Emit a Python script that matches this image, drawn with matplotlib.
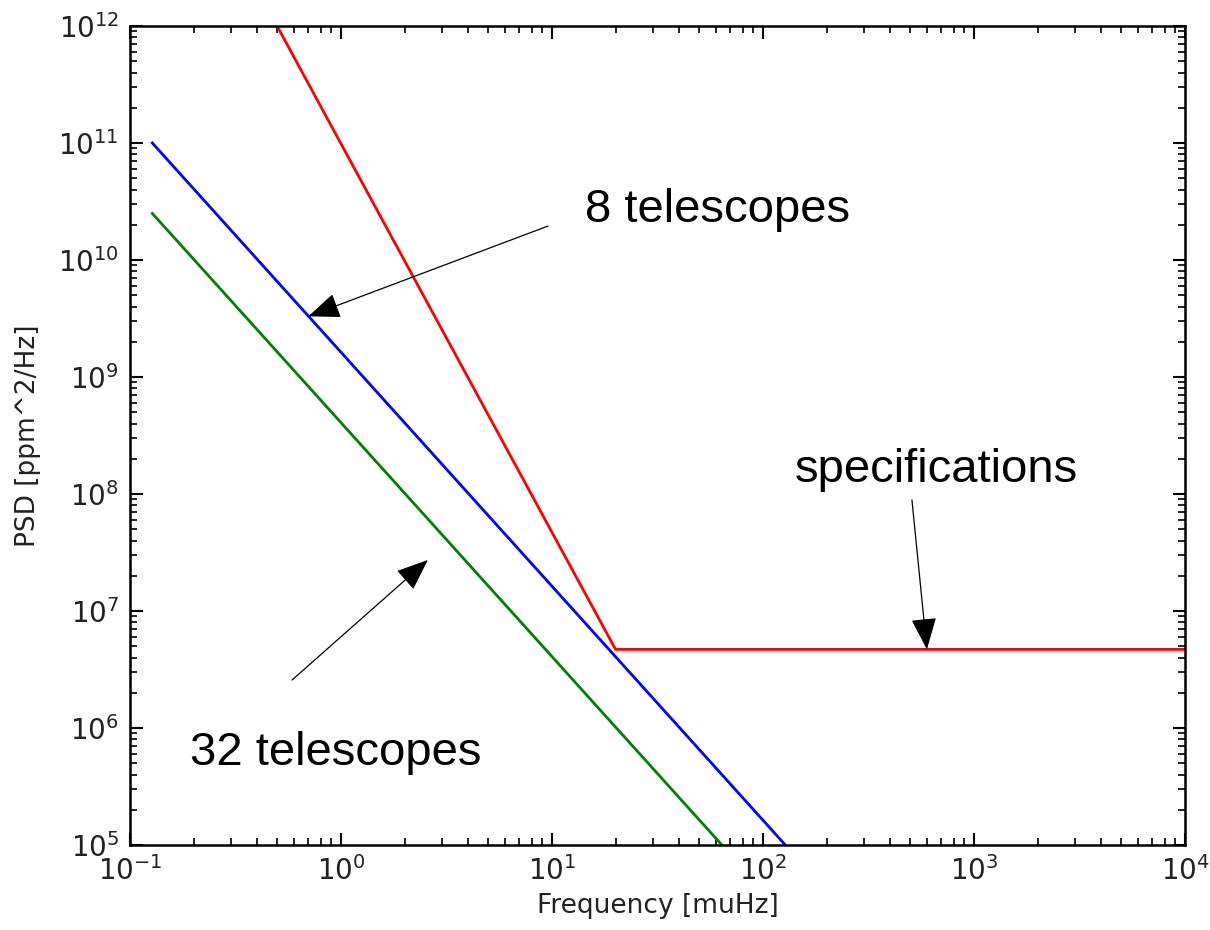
import matplotlib
matplotlib.use("Agg")
import matplotlib.pyplot as plt

# Noise power spectral density versus frequency
freq_tel = [0.1276, 200.0]           # muHz
psd_8_tel = [1.0e11, 4.07e4]         # ppm^2/Hz, 8 telescopes
psd_32_tel = [2.5e10, 1.02e4]        # ppm^2/Hz, 32 telescopes

freq_spec = [0.1276, 20.0, 1.0e4]    # muHz
psd_spec = [9.2e13, 4.7e6, 4.7e6]    # ppm^2/Hz, requirement

x_limits = (1e-1, 1e4)
y_limits = (1e5, 1e12)

# (text, text anchor, arrow tail, arrow tip)
notes = [
    ("8 telescopes", (14.3, 2.11e10), (9.57, 1.95e10), (0.70, 3.3e9)),
    ("32 telescopes", (0.192, 4.83e5), (0.586, 2.57e6), (2.58, 2.73e7)),
    ("specifications", (141.9, 1.27e8), (508.0, 8.9e7), (598.0, 4.7e6)),
]

plt.rcParams["font.family"] = ["DejaVu Sans"]
plt.rcParams["mathtext.fontset"] = "dejavusans"

fig = plt.figure(figsize=(12.1, 9.3), dpi=100)
ax = fig.add_axes([130 / 1210, 1 - 845 / 930, 1055 / 1210, 819 / 930])

lw = 2.0
ax.plot(freq_spec, psd_spec, color=(1.0, 0.0, 0.0), lw=lw)
ax.plot(freq_tel, psd_8_tel, color=(0.0, 0.0, 1.0), lw=lw)
ax.plot(freq_tel, psd_32_tel, color=(0.0, 0.5, 0.0), lw=lw)

ax.set_xscale("log")
ax.set_yscale("log")
ax.set_xlim(*x_limits)
ax.set_ylim(*y_limits)

ax.set_xlabel("Frequency [muHz]", fontsize=19, labelpad=5, color="#222222")
ax.set_ylabel("PSD [ppm^2/Hz]", fontsize=19, labelpad=12, color="#222222")

for side in ax.spines.values():
    side.set_linewidth(1.8)

ax.tick_params(which="both", direction="in", top=True, right=True,
               colors="black", labelsize=20, labelcolor="#222222")
ax.tick_params(which="major", length=9, width=1.5, pad=8)
ax.tick_params(which="minor", length=5, width=1.2)

for label, text_xy, tail_xy, tip_xy in notes:
    ax.text(text_xy[0], text_xy[1], label, fontsize=34,
            family=["Liberation Sans", "DejaVu Sans"],
            ha="left", va="baseline", color="black")
    ax.annotate("", xy=tip_xy, xytext=tail_xy,
                arrowprops=dict(arrowstyle="-|>,head_length=0.5,head_width=0.2",
                                mutation_scale=40, lw=0.9, color="black",
                                shrinkA=0, shrinkB=0))

fig.savefig("out.png", dpi=100, facecolor="white")
